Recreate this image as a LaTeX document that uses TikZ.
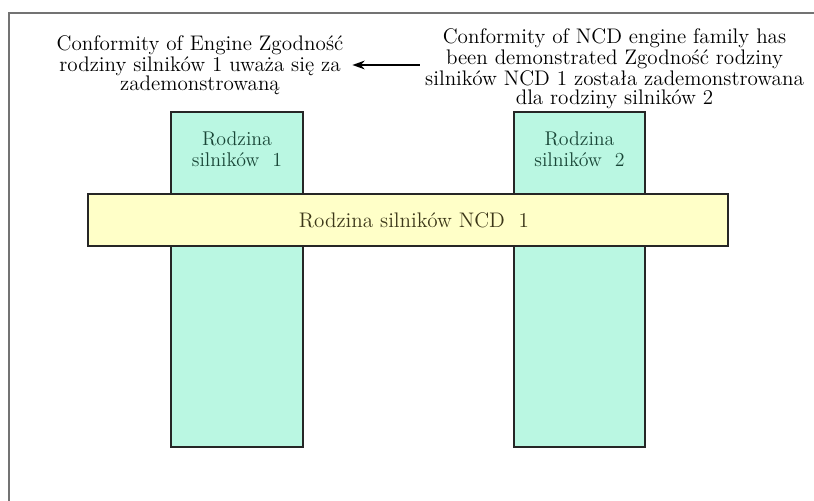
\documentclass[tikz,border=0pt]{standalone}
\usetikzlibrary{arrows.meta}

\definecolor{mint}{RGB}{186,247,226}
\definecolor{cream}{RGB}{255,255,200}
\definecolor{famtext}{RGB}{25,70,55}
\definecolor{ncdtext}{RGB}{60,55,25}

\begin{document}
\begin{tikzpicture}[
    txt/.style={font=\fontsize{12}{10.8}\selectfont, align=center, inner sep=0pt},
    famtxt/.style={txt, text=famtext, font=\fontsize{11.3}{11.8}\selectfont},
    box/.style={draw=black!85, line width=.8pt}]
  \useasboundingbox (0,0) rectangle (16.28,10.02);
  \draw[black!55, line width=1.2pt] (0.18,0) -- (0.18,9.76) -- (16.28,9.76);

  % engine families
  \fill[mint] (3.42,1.08) rectangle (6.06,7.78);
  \draw[box] (3.42,1.08) rectangle (6.06,7.78);
  \fill[mint] (10.28,1.08) rectangle (12.90,7.78);
  \draw[box] (10.28,1.08) rectangle (12.90,7.78);
  % NCD family
  \fill[cream] (1.76,5.10) rectangle (14.56,6.14);
  \draw[box] (1.76,5.10) rectangle (14.56,6.14);

  \node[famtxt] (fam1) at (4.74,7.04) {Rodzina\\silników~ 1};
  \node[famtxt] (fam2) at (11.59,7.04) {Rodzina\\silników~ 2};
  \node[txt, text=ncdtext] (ncd) at (8.28,5.62) {Rodzina silników NCD~ 1};

  \node[txt] (conf) at (4.0,8.72)
    {Conformity of Engine Zgodność\\rodziny silników 1 uważa się za\\zademonstrowaną};
  \node[txt] (confncd) at (12.29,8.64)
    {Conformity of NCD engine family has\\been demonstrated Zgodność rodziny\\silników NCD 1 została zademonstrowana\\dla rodziny silników 2};

  \draw[-{Stealth[length=7pt,width=5pt]}, line width=.9pt,
    shorten <=3pt, shorten >=5pt] (conf.east -| confncd.west) -- (conf.east);
\end{tikzpicture}
\end{document}
